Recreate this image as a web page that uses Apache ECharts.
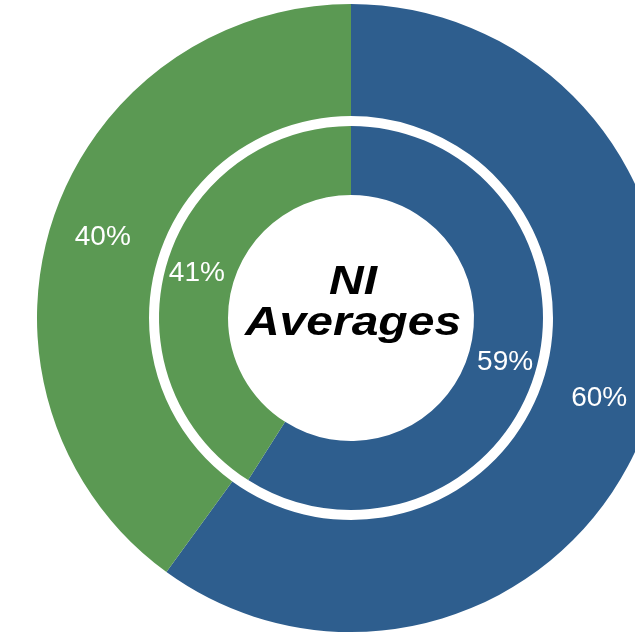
<!DOCTYPE html>
<html>
<head>
<meta charset="utf-8">
<script src="https://cdn.jsdelivr.net/npm/echarts@6/dist/echarts.min.js"></script>
<style>
html,body{margin:0;padding:0;background:#fff;}
#c{width:635px;height:634px;}
</style>
</head>
<body>
<div id="c"></div>
<script>
const categories = ['Blue', 'Green'];
const outerValues = [60, 40];
const innerValues = [59, 41];
const centerTitle = 'NI\nAverages';
const colors = ['#2E5E8E', '#5B9953'];

const chart = echarts.init(document.getElementById('c'), null, {renderer: 'canvas'});
const labelStyle = {
  show: true,
  position: 'inside',
  formatter: '{c}%',
  color: '#ffffff',
  fontFamily: '"Liberation Sans", Arial, Helvetica, sans-serif',
  fontSize: 28,
  fontWeight: 'normal'
};
function makeData(vals) {
  return vals.map((v, i) => ({name: categories[i], value: v, itemStyle: {color: colors[i]}}));
}
chart.setOption({
  animation: false,
  series: [
    {
      type: 'pie',
      center: [351, 318],
      radius: [202, 314],
      startAngle: 90,
      clockwise: true,
      silent: true,
      label: labelStyle,
      labelLine: {show: false},
      itemStyle: {borderWidth: 0},
      emphasis: {disabled: true},
      data: makeData(outerValues)
    },
    {
      type: 'pie',
      center: [351, 318],
      radius: [123, 192],
      startAngle: 90,
      clockwise: true,
      silent: true,
      label: labelStyle,
      labelLine: {show: false},
      itemStyle: {borderWidth: 0},
      emphasis: {disabled: true},
      data: makeData(innerValues)
    }
  ],
  graphic: [{
    type: 'text',
    x: 353,
    y: 303,
    scaleX: 1.2,
    silent: true,
    style: {
      text: centerTitle,
      align: 'center',
      verticalAlign: 'middle',
      fill: '#000000',
      font: 'italic bold 40px "Liberation Sans", Arial, Helvetica, sans-serif',
      lineHeight: 41
    }
  }]
});
</script>
</body>
</html>
